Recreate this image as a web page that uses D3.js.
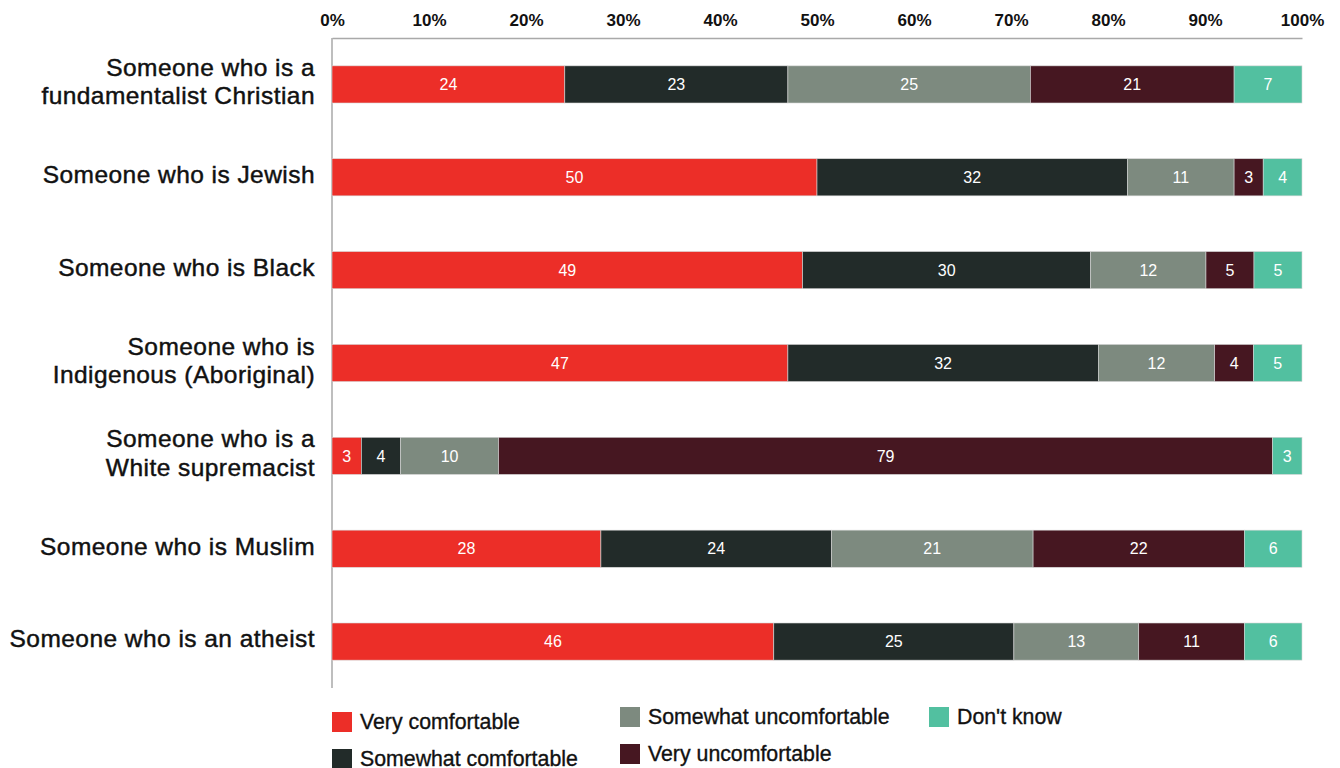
<!DOCTYPE html>
<html>
<head>
<meta charset="utf-8">
<script src="https://cdn.jsdelivr.net/npm/d3@7"></script>
<style>
  html, body { margin: 0; padding: 0; background: #fff; }
  svg { display: block; font-family: "Liberation Sans", Arial, Helvetica, sans-serif; }
</style>
</head>
<body>
<svg id="chart" width="1340" height="768"></svg>
<script>
// Comfort with people of different groups (percent of respondents)
const categories = [
  ["Someone who is a", "fundamentalist Christian"],
  ["Someone who is Jewish"],
  ["Someone who is Black"],
  ["Someone who is", "Indigenous (Aboriginal)"],
  ["Someone who is a", "White supremacist"],
  ["Someone who is Muslim"],
  ["Someone who is an atheist"]
];
const seriesNames = ["Very comfortable", "Somewhat comfortable", "Somewhat uncomfortable", "Very uncomfortable", "Don't know"];
const veryComfortable       = [24, 50, 49, 47, 3, 28, 46];
const somewhatComfortable   = [23, 32, 30, 32, 4, 24, 25];
const somewhatUncomfortable = [25, 11, 12, 12, 10, 21, 13];
const veryUncomfortable     = [21, 3, 5, 4, 79, 22, 11];
const dontKnow              = [7, 4, 5, 5, 3, 6, 6];
const tickValues = [0, 10, 20, 30, 40, 50, 60, 70, 80, 90, 100];
const colors = ["#EC2E28", "#222B29", "#7D8A7F", "#461721", "#52C0A0"];

const seriesValues = [veryComfortable, somewhatComfortable, somewhatUncomfortable, veryUncomfortable, dontKnow];
const rows = categories.map((c, i) => {
  const r = { key: i };
  seriesNames.forEach((s, j) => { r[s] = seriesValues[j][i]; });
  return r;
});

const svg = d3.select("#chart");
const plotLeft = 332, plotRight = 1302, plotTop = 38, plotBottom = 688;

const x = d3.scaleLinear().domain([0, 1]).range([plotLeft, plotRight]);
const y = d3.scaleBand().domain(d3.range(categories.length)).range([plotTop, plotBottom])
  .paddingInner(0.6).paddingOuter(0.3);
const color = d3.scaleOrdinal().domain(seriesNames).range(colors);

// Each row is shown as shares of its own total
const stacked = d3.stack().keys(seriesNames).offset(d3.stackOffsetExpand)(rows);

// Top percentage axis
const xAxis = d3.axisTop(x)
  .tickValues(tickValues.map(v => v / 100))
  .tickFormat(d => Math.round(d * 100) + "%")
  .tickSize(0).tickPadding(12);
const gx = svg.append("g").attr("transform", `translate(0,${plotTop})`).call(xAxis);
gx.select(".domain").attr("stroke", "#a9a9a9").attr("stroke-width", 1.5);
gx.selectAll("text")
  .attr("font-size", 17).attr("font-weight", "bold").attr("fill", "#111")
  .attr("font-family", "Liberation Sans, Arial, sans-serif");

// Left baseline
svg.append("line")
  .attr("x1", plotLeft).attr("x2", plotLeft).attr("y1", plotTop).attr("y2", plotBottom)
  .attr("stroke", "#a9a9a9").attr("stroke-width", 1.5);

// Stacked segments
const layer = svg.append("g").selectAll("g").data(stacked).join("g")
  .attr("fill", d => color(d.key));
layer.selectAll("rect").data(d => d.map(p => ({ p, key: d.key }))).join("rect")
  .attr("x", d => x(d.p[0]))
  .attr("width", d => x(d.p[1]) - x(d.p[0]))
  .attr("y", d => y(d.p.data.key))
  .attr("height", y.bandwidth())
  .attr("stroke", "#d6d6d6").attr("stroke-width", 0.6);

// Segment value labels
layer.selectAll("text").data(d => d.map(p => ({ p, key: d.key }))).join("text")
  .attr("x", d => (x(d.p[0]) + x(d.p[1])) / 2)
  .attr("y", d => y(d.p.data.key) + y.bandwidth() / 2)
  .attr("dy", "0.36em")
  .attr("text-anchor", "middle")
  .attr("fill", "#fff")
  .attr("font-size", 16)
  .text(d => d.p.data[d.key]);

// Category labels
const labelSize = 24.5, lineH = 28.5;
const labels = svg.append("g").selectAll("text").data(categories).join("text")
  .attr("text-anchor", "end")
  .attr("font-size", labelSize)
  .attr("letter-spacing", "0.45px")
  .attr("fill", "#111")
  .attr("stroke", "#111").attr("stroke-width", 0.45)
  .attr("y", (d, i) => y(i) + y.bandwidth() / 2 - 3);
labels.selectAll("tspan").data(d => d).join("tspan")
  .attr("x", 315)
  .attr("dy", (t, k, nodes) => {
    const n = nodes.length;
    return k === 0 ? (0.36 * labelSize - (n - 1) * lineH / 2) + "px" : lineH + "px";
  })
  .text(t => t);

// Legend
const legendItems = [
  { name: seriesNames[0], x: 332, y: 712 },
  { name: seriesNames[1], x: 332, y: 749 },
  { name: seriesNames[2], x: 620, y: 707 },
  { name: seriesNames[3], x: 620, y: 744 },
  { name: seriesNames[4], x: 929, y: 707 }
];
const lg = svg.append("g").selectAll("g").data(legendItems).join("g")
  .attr("transform", d => `translate(${d.x},${d.y})`);
lg.append("rect").attr("width", 20).attr("height", 20).attr("fill", d => color(d.name));
lg.append("text")
  .attr("x", 28).attr("y", 10).attr("dy", "0.34em")
  .attr("font-size", 21.3).attr("fill", "#111")
  .attr("stroke", "#111").attr("stroke-width", 0.35)
  .text(d => d.name);
</script>
</body>
</html>
